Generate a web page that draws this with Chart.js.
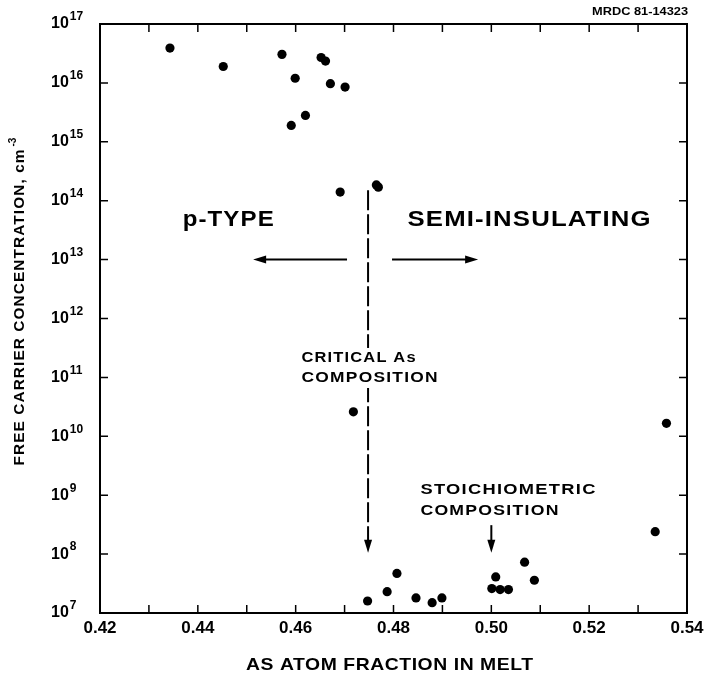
<!DOCTYPE html>
<html>
<head>
<meta charset="utf-8">
<script src="https://cdn.jsdelivr.net/npm/chart.js@4.4.1/dist/chart.umd.min.js"></script>
<style>
html, body { margin: 0; padding: 0; background: #fff; }
#wrap { width: 709px; height: 681px; position: relative; }
</style>
</head>
<body>
<div id="wrap"><canvas id="carrierChart"></canvas></div>
<script>
// As atom fraction in melt vs free carrier concentration (cm^-3)
const asFraction = [0.4343, 0.4452, 0.4572, 0.4599, 0.4591, 0.4620, 0.4652, 0.4661, 0.4671, 0.4701,
                    0.4691, 0.4765, 0.4769, 0.4718, 0.4747, 0.4787, 0.4807, 0.4846, 0.4879, 0.4899,
                    0.5001, 0.5018, 0.5035, 0.5009, 0.5068, 0.5088, 0.5335, 0.5358];
const carrierConc = [3.9e16, 1.9e16, 3.05e16, 1.2e16, 1.9e15, 2.8e15, 2.7e16, 2.35e16, 9.7e15, 8.5e15,
                     1.4e14, 1.85e14, 1.7e14, 2.6e10, 1.6e7, 2.3e7, 4.7e7, 1.8e7, 1.5e7, 1.8e7,
                     2.6e7, 2.5e7, 2.5e7, 4.1e7, 7.3e7, 3.6e7, 2.4e8, 1.66e10];

const xTicks = [0.42, 0.43, 0.44, 0.45, 0.46, 0.47, 0.48, 0.49, 0.50, 0.51, 0.52, 0.53, 0.54];
const xTickLabels = ['0.42', '', '0.44', '', '0.46', '', '0.48', '', '0.50', '', '0.52', '', '0.54'];
const yExponents = [7, 8, 9, 10, 11, 12, 13, 14, 15, 16, 17];

const FONT = '"Liberation Sans", Arial, sans-serif';

// the scan uses a wide lettering: stretch the text to the width it takes there
function wideText(ctx, text, left, cy, size, width, ls) {
  ctx.save();
  ctx.font = 'bold ' + size + 'px ' + FONT;
  ctx.letterSpacing = (ls || 0) + 'px';
  const w0 = ctx.measureText(text).width - (ls || 0);
  ctx.textAlign = 'left';
  ctx.textBaseline = 'middle';
  ctx.translate(left, cy);
  ctx.scale(width / w0, 1);
  ctx.fillText(text, 0, 0);
  ctx.restore();
}

function arrow(ctx, x1, y1, x2, y2, dash) {
  const ang = Math.atan2(y2 - y1, x2 - x1);
  const hl = 13, hw = 4;
  ctx.setLineDash(dash || []);
  ctx.beginPath();
  ctx.moveTo(x1, y1);
  ctx.lineTo(x2 - Math.cos(ang) * hl * 0.8, y2 - Math.sin(ang) * hl * 0.8);
  ctx.stroke();
  ctx.setLineDash([]);
  ctx.beginPath();
  ctx.moveTo(x2, y2);
  ctx.lineTo(x2 - Math.cos(ang) * hl - Math.sin(ang) * hw, y2 - Math.sin(ang) * hl + Math.cos(ang) * hw);
  ctx.lineTo(x2 - Math.cos(ang) * hl + Math.sin(ang) * hw, y2 - Math.sin(ang) * hl - Math.cos(ang) * hw);
  ctx.closePath();
  ctx.fill();
}

const decorations = {
  id: 'decorations',
  afterDraw(chart) {
    const { ctx, chartArea: a, scales: { x, y } } = chart;
    ctx.save();
    ctx.strokeStyle = '#000';
    ctx.fillStyle = '#000';

    // frame + inward ticks
    ctx.lineWidth = 2;
    ctx.strokeRect(a.left, a.top, a.right - a.left, a.bottom - a.top);
    ctx.lineWidth = 1.5;
    xTicks.forEach(v => {
      const px = x.getPixelForValue(v);
      ctx.beginPath();
      ctx.moveTo(px, a.bottom); ctx.lineTo(px, a.bottom - 8);
      ctx.moveTo(px, a.top); ctx.lineTo(px, a.top + 8);
      ctx.stroke();
    });
    yExponents.forEach(e => {
      const py = y.getPixelForValue(Math.pow(10, e));
      ctx.beginPath();
      ctx.moveTo(a.left, py); ctx.lineTo(a.left + 8, py);
      ctx.moveTo(a.right, py); ctx.lineTo(a.right - 8, py);
      ctx.stroke();
    });

    // y tick labels with real superscripts
    ctx.textBaseline = 'middle';
    ctx.textAlign = 'left';
    yExponents.forEach(e => {
      const py = y.getPixelForValue(Math.pow(10, e));
      ctx.font = 'bold 16px ' + FONT;
      ctx.fillText('10', a.left - 49, py);
      const w = ctx.measureText('10').width;
      ctx.font = 'bold 12px ' + FONT;
      ctx.fillText(String(e), a.left - 49 + w + 1, py - 7);
    });

    // axis titles
    const xt = 287;
    wideText(ctx, 'AS ATOM FRACTION IN MELT', (a.left + a.right) / 2 - 4 - xt / 2, a.bottom + 52, 17, xt, 0.5);
    ctx.save();
    ctx.translate(20, (a.top + a.bottom) / 2 - 18);
    ctx.rotate(-Math.PI / 2);
    wideText(ctx, 'FREE CARRIER CONCENTRATION, cm', -165, 0, 14, 316, 1);
    ctx.font = 'bold 10px ' + FONT;
    ctx.fillText('-3', 154, -7);
    ctx.restore();

    wideText(ctx, 'MRDC 81-14323', a.right - 95, a.top - 12, 10, 96);

    // region annotations
    ctx.lineWidth = 2;
    const y13 = y.getPixelForValue(1e13);
    arrow(ctx, x.getPixelForValue(0.4705), y13, x.getPixelForValue(0.4513), y13);
    arrow(ctx, x.getPixelForValue(0.4797), y13, x.getPixelForValue(0.4973), y13);
    const yReg = y.getPixelForValue(Math.pow(10, 13.67));
    wideText(ctx, 'p-TYPE', x.getPixelForValue(0.4461) - 45, yReg, 22, 91, 1);
    wideText(ctx, 'SEMI-INSULATING', x.getPixelForValue(0.5076) - 121, yReg, 22, 243, 1);

    // critical composition: dashed arrow, label on a white patch
    const xc = x.getPixelForValue(0.4748);
    arrow(ctx, xc, y.getPixelForValue(1.5e14), xc, y.getPixelForValue(1.05e8), [20, 4]);
    const cl = x.getPixelForValue(0.4612);
    const c1 = y.getPixelForValue(Math.pow(10, 11.33));
    const c2 = y.getPixelForValue(Math.pow(10, 10.99));
    ctx.fillStyle = '#fff';
    ctx.fillRect(cl - 2, c1 - 10, 140, c2 - c1 + 20);
    ctx.fillStyle = '#000';
    wideText(ctx, 'CRITICAL As', cl, c1, 14, 114, 1);
    wideText(ctx, 'COMPOSITION', cl, c2, 14, 136, 1);

    // stoichiometric composition
    const xs = x.getPixelForValue(0.50);
    arrow(ctx, xs, y.getPixelForValue(3.1e8), xs, y.getPixelForValue(1.05e8));
    const sl = x.getPixelForValue(0.4855);
    wideText(ctx, 'STOICHIOMETRIC', sl, y.getPixelForValue(Math.pow(10, 9.09)), 14, 175, 1);
    wideText(ctx, 'COMPOSITION', sl, y.getPixelForValue(Math.pow(10, 8.73)), 14, 138, 1);

    ctx.restore();
  }
};

const ctx = document.getElementById('carrierChart').getContext('2d');
const chart = new Chart(ctx, {
  type: 'scatter',
  data: {
    datasets: [{
      data: asFraction.map((v, i) => ({ x: v, y: carrierConc[i] })),
      backgroundColor: '#000',
      borderWidth: 0,
      pointRadius: 4.6
    }]
  },
  options: {
    responsive: true,
    maintainAspectRatio: false,
    animation: false,
    events: [],
    layout: { padding: { top: 24, right: 22, left: 0, bottom: 0 } },
    plugins: { legend: { display: false }, tooltip: { enabled: false } },
    scales: {
      x: {
        type: 'linear',
        min: 0.42,
        max: 0.54,
        afterBuildTicks: s => { s.ticks = xTicks.map(v => ({ value: v })); },
        afterFit: s => { s.height = 68; },
        grid: { display: false, drawTicks: false },
        border: { display: false },
        ticks: {
          autoSkip: false,
          maxRotation: 0,
          padding: 5,
          color: '#000',
          font: { family: FONT, size: 17, weight: 'bold' },
          callback: (v, i) => xTickLabels[i]
        }
      },
      y: {
        type: 'logarithmic',
        min: 1e7,
        max: 1e17,
        afterBuildTicks: s => { s.ticks = yExponents.map(e => ({ value: Math.pow(10, e) })); },
        afterFit: s => { s.width = 100; },
        grid: { display: false, drawTicks: false },
        border: { display: false },
        ticks: { display: false }
      }
    }
  },
  plugins: [decorations]
});
</script>
</body>
</html>
